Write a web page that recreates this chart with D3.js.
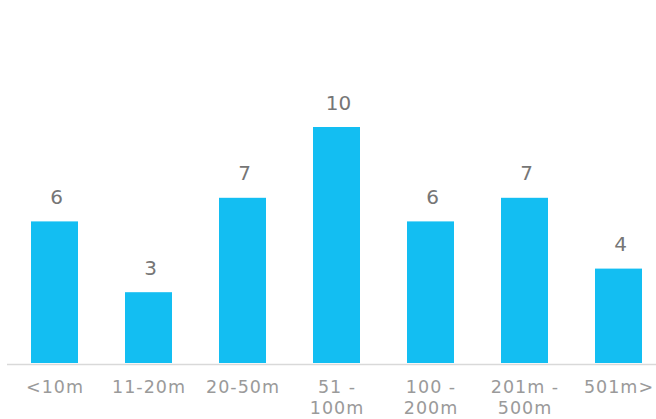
<!DOCTYPE html>
<html><head><meta charset="utf-8">
<script src="https://cdn.jsdelivr.net/npm/d3@7"></script>
<style>body{margin:0;background:#fff}svg{display:block}</style>
</head><body>
<svg id="c" width="656" height="419"></svg>
<script>
const categories = ["<10m","11-20m","20-50m","51 - 100m","100 - 200m","201m - 500m","501m>"];
const labelLines = [["<10m"],["11-20m"],["20-50m"],["51 -","100m"],["100 -","200m"],["201m -","500m"],["501m>"]];
const values = [6,3,7,10,6,7,4];

const svg = d3.select("#c");
const baseY = 363;
const x = d3.scaleBand().domain(categories).range([7.5, 665.5]).paddingInner(0.5).paddingOuter(0.25);
const y = d3.scaleLinear().domain([0, 10]).range([baseY, 127]);

svg.append("line").attr("x1",7).attr("x2",656).attr("y1",364.5).attr("y2",364.5)
  .attr("stroke","#d9d9d9").attr("stroke-width",1.5);

svg.selectAll("rect.bar").data(values).join("rect").attr("class","bar")
  .attr("x",(d,i)=>x(categories[i])).attr("width",x.bandwidth())
  .attr("y",d=>y(d)).attr("height",d=>baseY-y(d)).attr("fill","#13bef2");

svg.selectAll("text.val").data(values).join("text").attr("class","val")
  .attr("x",(d,i)=>x(categories[i])+x.bandwidth()/2+2).attr("y",d=>y(d)-17.5)
  .attr("text-anchor","middle").attr("font-family","'DejaVu Sans', sans-serif")
  .attr("font-size",20).attr("fill","#767676").text(d=>d);

const ls = 1;
const g = svg.selectAll("text.cat").data(categories).join("text").attr("class","cat")
  .attr("text-anchor","middle").attr("font-family","'DejaVu Sans', sans-serif")
  .attr("font-size",17.5).attr("letter-spacing",ls).attr("fill","#9a9a9a")
  .attr("x",d=>x(d)+x.bandwidth()/2+ls/2).attr("y",393);
g.each(function(d,i){
  const t = d3.select(this);
  labelLines[i].forEach((ln,j)=>{
    t.append("tspan").attr("x",x(d)+x.bandwidth()/2+ls/2).attr("dy",j===0?0:21).text(ln);
  });
});
</script>
</body></html>
